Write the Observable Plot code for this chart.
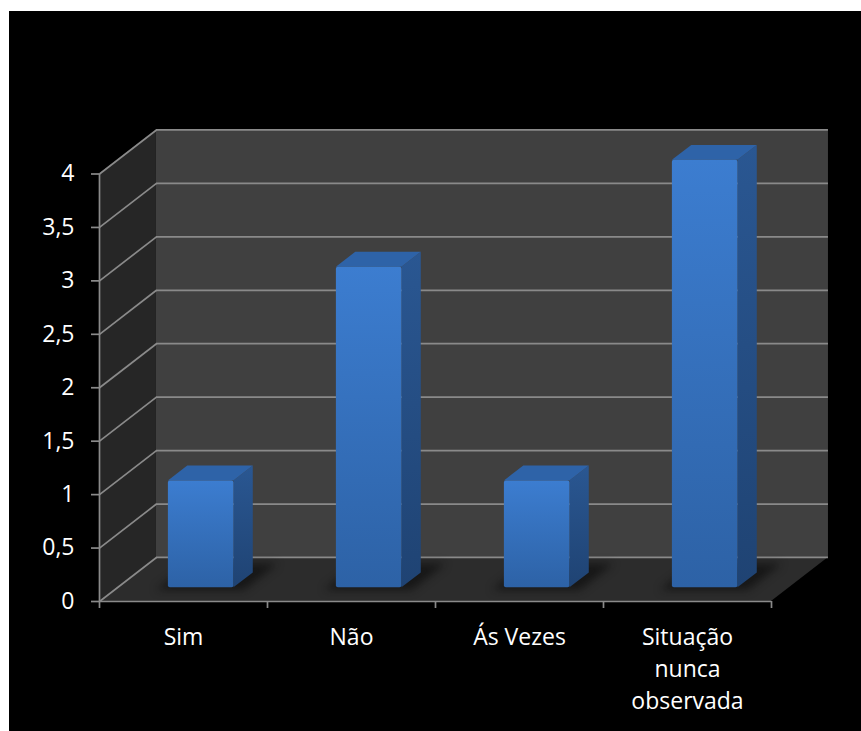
<!DOCTYPE html>
<html>
<head>
<meta charset="utf-8">
<script src="https://cdn.jsdelivr.net/npm/d3@7"></script>
<script src="https://cdn.jsdelivr.net/npm/@observablehq/plot@0.6"></script>
<style>
  html, body { margin: 0; padding: 0; background: #ffffff; }
  #chart { position: absolute; left: 9px; top: 11px; }
</style>
</head>
<body>
<div id="chart"></div>
<script>
// ---- data ----
const categories = ["Sim", "Não", "Ás Vezes", "Situação nunca observada"];
const xLabels = ["Sim", "Não", "Ás Vezes", "Situação\nnunca\nobservada"];
const values = [1, 3, 1, 4];
const yTicks = [0, 0.5, 1, 1.5, 2, 2.5, 3, 3.5, 4];
const yTickLabels = ["0", "0,5", "1", "1,5", "2", "2,5", "3", "3,5", "4"];

// ---- oblique 3D projection parameters (in data units) ----
const NCAT = categories.length;
const YMAX = 4;
const DX = 0.339;   // depth offset along x (category units)
const DY = 0.412;   // depth offset along y (value units)
const BL = 0.305, BR = 0.695;   // bar left/right within band
const DF = 0.31, DB = 0.65;     // bar front/back depth
const grid = "#8a8a8a";

const bars = categories.map((c, i) => ({i, c, v: values[i]}));

const backWall = [{x1: DX, x2: NCAT + DX, y1: DY, y2: YMAX + DY}];
const sideWall = [{x: 0, y1: 0, y2: YMAX}, {x: DX, y1: DY, y2: YMAX + DY}];
const floor = [{y: 0, x1: 0, x2: NCAT}, {y: DY, x1: DX, x2: NCAT + DX}];

const sideFaces = bars.flatMap(b => [
  {i: b.i, x: b.i + BR + DF * DX, y1: DF * DY, y2: b.v + DF * DY},
  {i: b.i, x: b.i + BR + DB * DX, y1: DB * DY, y2: b.v + DB * DY}
]);
const topFaces = bars.flatMap(b => [
  {i: b.i, y: b.v + DF * DY, x1: b.i + BL + DF * DX, x2: b.i + BR + DF * DX},
  {i: b.i, y: b.v + DB * DY, x1: b.i + BL + DB * DX, x2: b.i + BR + DB * DX}
]);
const shadows = bars.flatMap(b => [
  {i: b.i, y: 0.25 * DY, x1: b.i + BL - 0.05 + 0.25 * DX, x2: b.i + BR + 0.08 + 0.25 * DX},
  {i: b.i, y: 0.85 * DY, x1: b.i + BL - 0.05 + 0.85 * DX, x2: b.i + BR + 0.08 + 0.85 * DX}
]);

const chart = Plot.plot({
  width: 852,
  height: 720,
  marginLeft: 90,
  marginRight: 90,
  marginTop: 162.5,
  marginBottom: 130,
  style: {background: "#000000", color: "#ffffff", fontFamily: "'Open Sans', sans-serif", fontSize: "23px"},
  x: {type: "linear", domain: [0, NCAT]},
  y: {type: "linear", domain: [0, YMAX]},
  marks: [
    // walls & floor
    Plot.rect(backWall, {x1: "x1", x2: "x2", y1: "y1", y2: "y2", fill: "#404040"}),
    Plot.areaY(sideWall, {x: "x", y1: "y1", y2: "y2", fill: "#262626"}),
    Plot.areaX(floor, {y: "y", x1: "x1", x2: "x2", fill: "#2c2c2c"}),
    // gridlines on back wall
    Plot.ruleY(yTicks, {y: d => d + DY, x1: DX, x2: NCAT + DX, stroke: grid, strokeWidth: 1.7}),
    // gridlines on side wall
    Plot.link(yTicks, {x1: 0, y1: d => d, x2: DX, y2: d => d + DY, stroke: grid, strokeWidth: 1.7}),
    // bar shadows
    Plot.areaX(shadows, {y: "y", x1: "x1", x2: "x2", z: "i", fill: "#080808", fillOpacity: 0.6, imageFilter: "blur(4px)"}),
    // bars
    Plot.areaY(sideFaces, {x: "x", y1: "y1", y2: "y2", z: "i", fill: "url(#gSide)"}),
    Plot.areaX(topFaces, {y: "y", x1: "x1", x2: "x2", z: "i", fill: "#2e63a8"}),
    Plot.rect(bars, {x1: d => d.i + BL + DF * DX, x2: d => d.i + BR + DF * DX, y1: DF * DY, y2: d => d.v + DF * DY, fill: "url(#gFront)", rx: 2}),
    // axes lines
    Plot.ruleX([0], {y1: 0, y2: YMAX, stroke: grid, strokeWidth: 1.7}),
    Plot.ruleY([0], {x1: 0, x2: NCAT, stroke: grid, strokeWidth: 1.7}),
    Plot.axisY({ticks: yTicks, tickSize: 8, tickPadding: 17, stroke: grid, strokeWidth: 1.7, fill: "#ffffff", fontSize: 23,
      tickFormat: d => yTickLabels[yTicks.indexOf(d)], label: null}),
    Plot.axisX({ticks: d3.range(NCAT + 1), tickSize: 7, stroke: grid, strokeWidth: 1.7, tickFormat: () => "", label: null}),
    // category labels
    Plot.text(xLabels, {x: (d, i) => i + 0.5, y: 0, dy: 20, lineAnchor: "top", lineHeight: 1.41, fill: "#ffffff", fontSize: 23, text: d => d})
  ]
});

const defs = d3.select(chart).insert("defs", ":first-child");
const gf = defs.append("linearGradient").attr("id", "gFront").attr("x1", 0).attr("y1", 0).attr("x2", 0).attr("y2", 1);
gf.append("stop").attr("offset", "0%").attr("stop-color", "#3c7dd0");
gf.append("stop").attr("offset", "100%").attr("stop-color", "#2d62a6");
const gs = defs.append("linearGradient").attr("id", "gSide").attr("x1", 0).attr("y1", 0).attr("x2", 0).attr("y2", 1);
gs.append("stop").attr("offset", "0%").attr("stop-color", "#2a5792");
gs.append("stop").attr("offset", "100%").attr("stop-color", "#1f4373");

document.getElementById("chart").appendChild(chart);
</script>
</body>
</html>
